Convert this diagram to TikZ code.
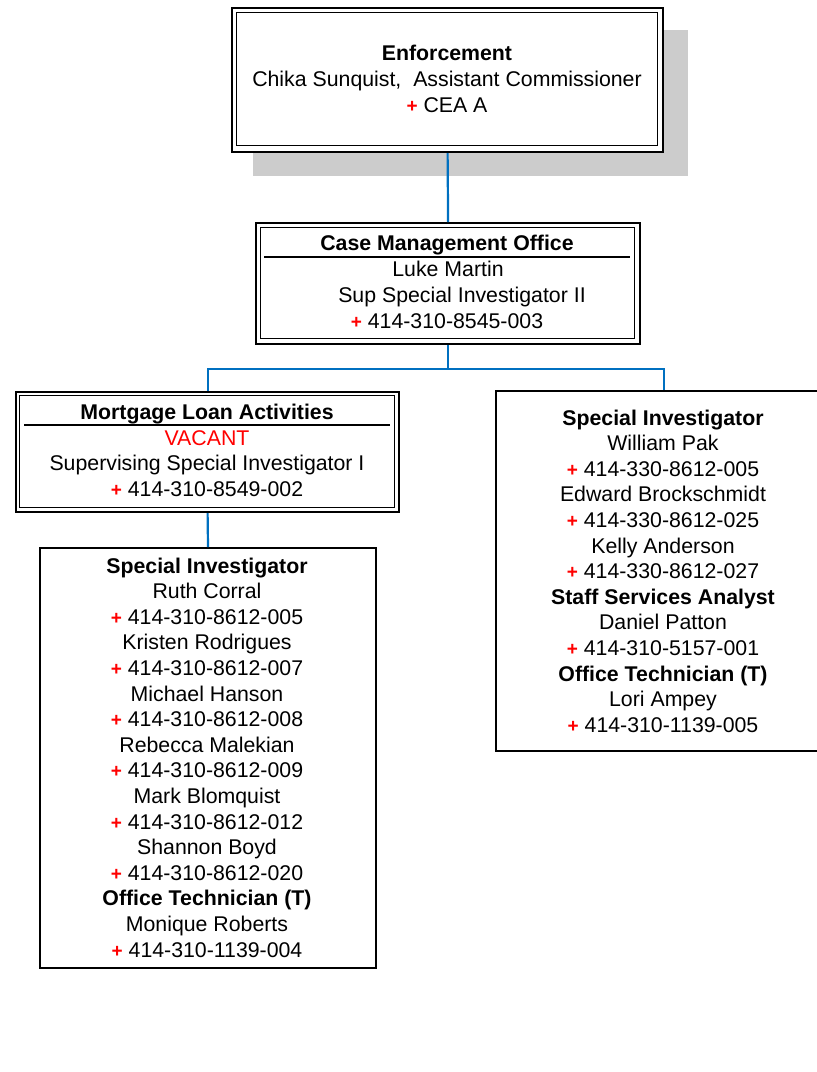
\documentclass[tikz,border=0pt]{standalone}
\usepackage{fontspec}
\setmainfont{Liberation Sans}
\definecolor{linkblue}{RGB}{0,112,192}
\definecolor{shade}{RGB}{204,204,204}
\newcommand\ph[1]{{\color{red}\bfseries\fontsize{19}{25.6}\selectfont +} #1}
\begin{document}
\begin{tikzpicture}[x=1pt,y=-1pt,
  boxbase/.style={rectangle, inner sep=0pt, anchor=north west},
  outerbox/.style={boxbase, draw=black, fill=white, line width=2.2pt},
  innerbox/.style={boxbase, draw=black, line width=1.1pt},
  plainbox/.style={boxbase, draw=black, fill=white, line width=2pt},
  shadowbox/.style={boxbase, fill=shade},
  headrule/.style={draw=black, line width=1.3pt},
  link/.style={draw=linkblue, line width=2.2pt},
  txt/.style={anchor=base, inner sep=0pt, font=\fontsize{21.3}{25.6}\selectfont},
]
\useasboundingbox (0,0) rectangle (817,1072);

% Enforcement (top box with drop shadow)
\node[shadowbox, minimum width=435pt, minimum height=146pt] (enfshadow) at (253,30) {};
\node[outerbox, minimum width=431pt, minimum height=144pt] (enf) at (231,7) {};
\node[innerbox, minimum width=421pt, minimum height=133pt] (enfin) at (236,12) {};
\node[txt] (enf1) at (447,60) {\bfseries Enforcement};
\node[txt] (enf2) at (447,86) {Chika Sunquist,~ Assistant Commissioner};
\node[txt] (enf3) at (447,112) {\ph{CEA A}};

% Case Management Office
\node[outerbox, minimum width=384pt, minimum height=121pt] (cmo) at (255,222) {};
\node[innerbox, minimum width=374pt, minimum height=111pt] (cmoin) at (260,227) {};
\coordinate (cmoL) at (264,257);
\coordinate (cmoR) at (630,257);
\draw[headrule] (cmoL) -- (cmoR);
\node[txt] (cmo1) at (447,250) {\bfseries Case Management Office};
\node[txt] (cmo2) at (448,276.5) {Luke Martin};
\node[txt] (cmo3) at (462,302) {Sup Special Investigator II};
\node[txt] (cmo4) at (447,328) {\ph{414-310-8545-003}};

% Mortgage Loan Activities
\node[outerbox, minimum width=383pt, minimum height=120pt] (mla) at (15,391) {};
\node[innerbox, minimum width=375pt, minimum height=112pt] (mlain) at (19,395) {};
\coordinate (mlaL) at (24,425);
\coordinate (mlaR) at (390,425);
\draw[headrule] (mlaL) -- (mlaR);
\node[txt] (mla1) at (207,419) {\bfseries Mortgage Loan Activities};
\node[txt, text=red] (mla2) at (207,445) {VACANT};
\node[txt] (mla3) at (207,470) {Supervising Special Investigator I};
\node[txt] (mla4) at (207,496) {\ph{414-310-8549-002}};

% Staff under Mortgage Loan Activities
\node[plainbox, minimum width=336pt, minimum height=420pt] (staffL) at (39,547) {};
\foreach \t [count=\i from 0] in {
  {\bfseries Special Investigator}, Ruth Corral, \ph{414-310-8612-005},
  Kristen Rodrigues, \ph{414-310-8612-007},
  Michael Hanson, \ph{414-310-8612-008},
  Rebecca Malekian, \ph{414-310-8612-009},
  Mark Blomquist, \ph{414-310-8612-012},
  Shannon Boyd, \ph{414-310-8612-020},
  {\bfseries Office Technician (T)}, Monique Roberts, \ph{414-310-1139-004}}
  \node[txt] (staffL-\i) at (207,573+25.6*\i) {\t};

% Staff reporting directly to the Case Management Office
\node[plainbox, minimum width=336pt, minimum height=360pt] (staffR) at (495,390) {};
\foreach \t [count=\i from 0] in {
  {\bfseries Special Investigator}, William Pak, \ph{414-330-8612-005},
  Edward Brockschmidt, \ph{414-330-8612-025},
  Kelly Anderson, \ph{414-330-8612-027},
  {\bfseries Staff Services Analyst}, Daniel Patton, \ph{414-310-5157-001},
  {\bfseries Office Technician (T)}, Lori Ampey, \ph{414-310-1139-005}}
  \node[txt] (staffR-\i) at (663,425+25.6*\i) {\t};

% Reporting lines
\draw[link] (enf.south) -- (cmo.north);
\draw[link] (cmo.south) -- ++(0,24) coordinate (split) -| (mla.north);
\draw[link] (split) -| (staffR.north);
\draw[link] (mla.south) -- (staffL.north);
\end{tikzpicture}
\end{document}
